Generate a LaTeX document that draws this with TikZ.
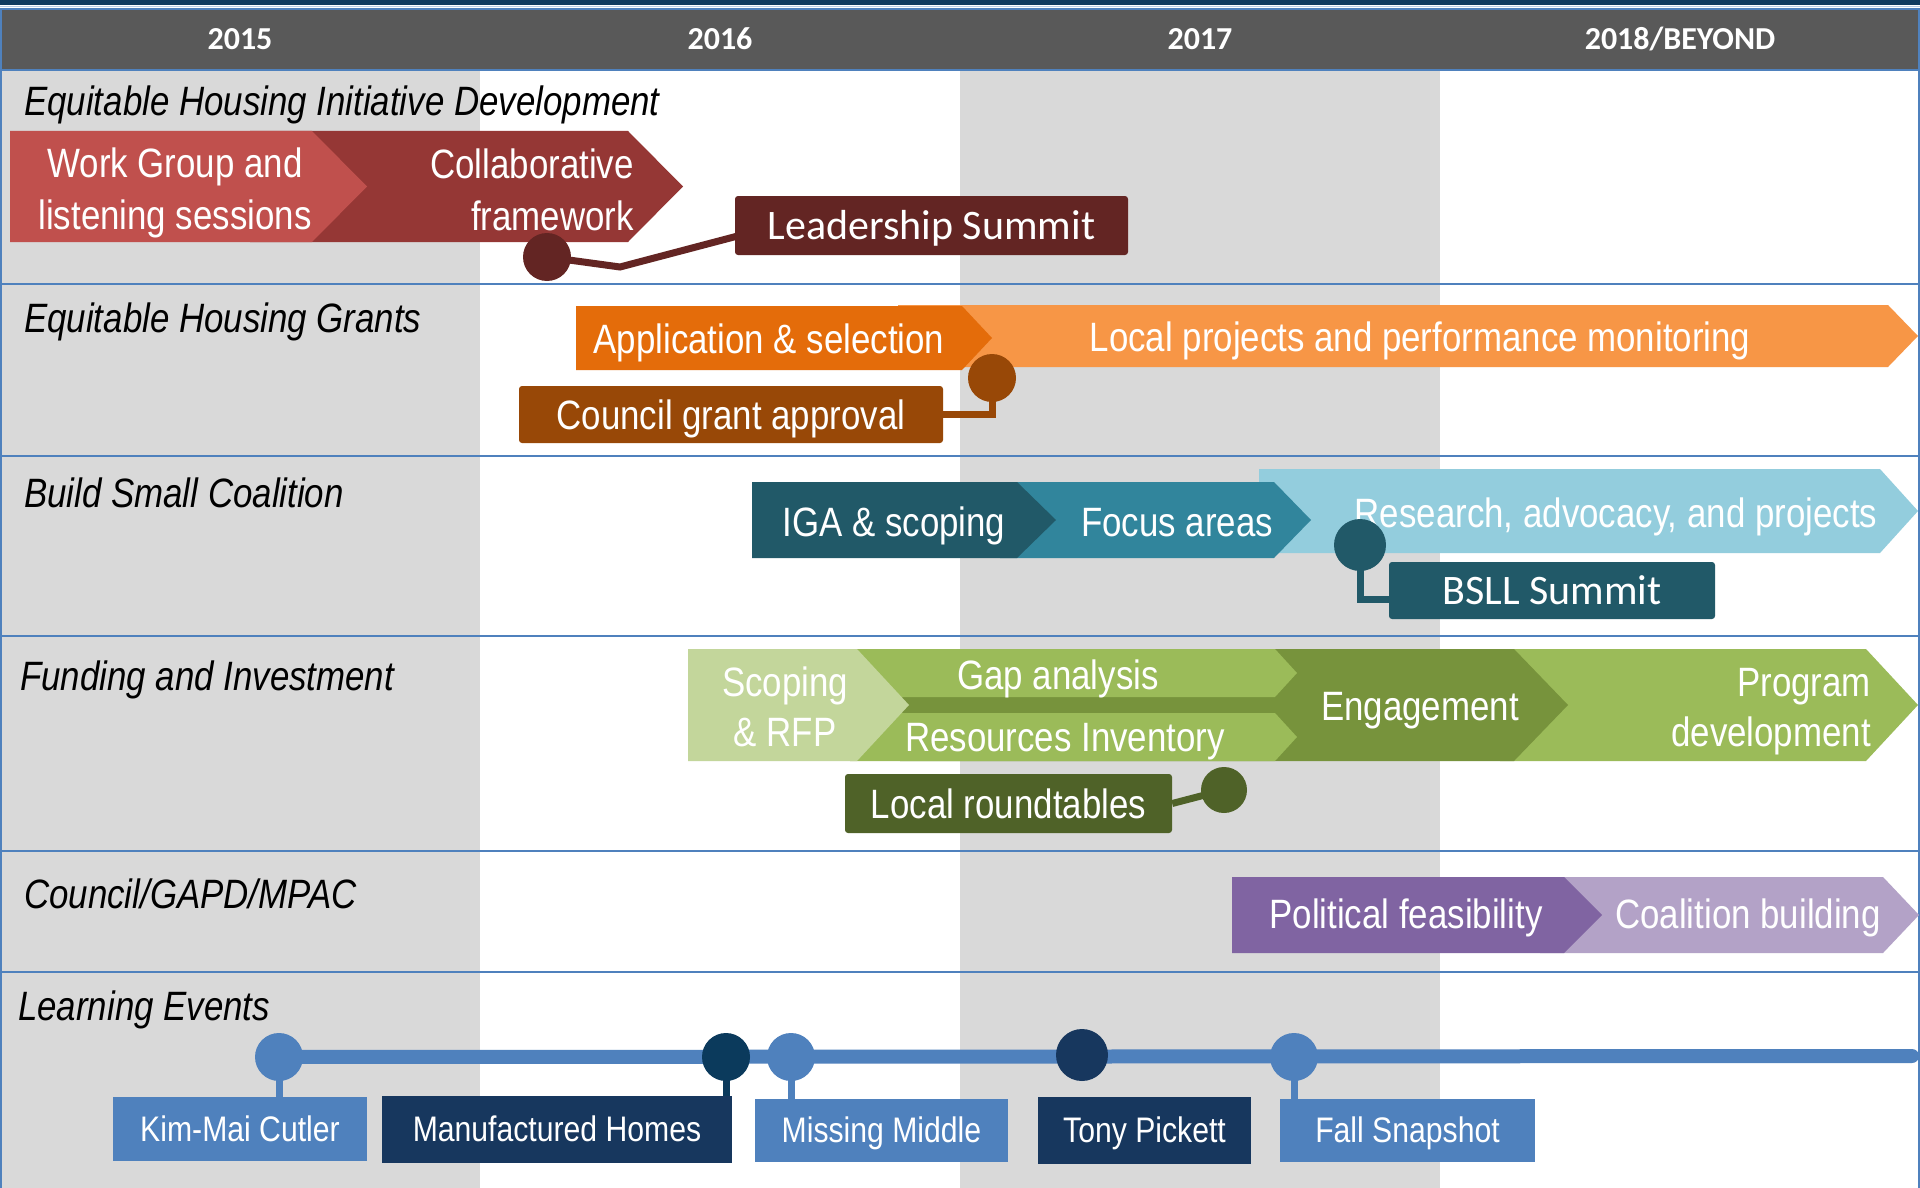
\documentclass[tikz,border=0pt]{standalone}
\usepackage{fontspec}
\setmainfont{Liberation Sans}[FakeStretch=0.85]
\newfontfamily\calfont{Carlito}
\usetikzlibrary{calc}

\definecolor{hdrgray}{HTML}{595959}
\definecolor{colshade}{HTML}{D9D9D9}
\definecolor{rule}{HTML}{4F81BD}
\definecolor{topnavy}{HTML}{0F3A5E}
\definecolor{redA}{HTML}{C0504D}
\definecolor{redB}{HTML}{953735}
\definecolor{redC}{HTML}{632523}
\definecolor{orA}{HTML}{E46C0A}
\definecolor{orB}{HTML}{F79646}
\definecolor{orC}{HTML}{984807}
\definecolor{tlA}{HTML}{215968}
\definecolor{tlB}{HTML}{31859C}
\definecolor{tlC}{HTML}{93CDDD}
\definecolor{grA}{HTML}{C3D69B}
\definecolor{grB}{HTML}{9BBB59}
\definecolor{grC}{HTML}{77933C}
\definecolor{grD}{HTML}{4F6228}
\definecolor{puA}{HTML}{8064A2}
\definecolor{puB}{HTML}{B3A2C7}
\definecolor{evblue}{HTML}{4F81BD}
\definecolor{evnavy}{HTML}{17375E}
\definecolor{evdark}{HTML}{0B3A5C}

% filled chevron: colour, left x, body right x, top y, bottom y, tip length
\newcommand\chevshape[6]{%
  \fill[#1] (#2,#4) -- (#3,#4) -- ({#3+#6},{(#4+#5)/2}) -- (#3,#5) -- (#2,#5) -- cycle;}

\begin{document}
\begin{tikzpicture}[x=1pt,y=-1pt,
  rowlabel/.style={anchor=base west, inner sep=0, font=\fontsize{41}{46}\selectfont\itshape},
  ctext/.style={text=white, inner sep=0, align=center, font=\fontsize{41}{50}\selectfont},
  widetext/.style={text=white, inner sep=0, font=\fontsize{41}{52}\selectfont},
  oneline/.style={text height=35pt, text depth=6pt},
  yeartext/.style={text=white, inner sep=0, font=\calfont\bfseries\fontsize{32}{36}\selectfont},
  box/.style={rectangle, rounded corners=3, inner sep=0, text=white},
  calbox/.style={box, font=\calfont\fontsize{42}{46}\selectfont, text height=30pt, text depth=3pt},
  narbox/.style={box, font=\fontsize{41}{46}\selectfont, text height=35pt, text depth=6pt},
  evbox/.style={rectangle, inner sep=0, text=white, font=\fontsize{35.5}{40}\selectfont, text height=30pt, text depth=6pt},
  dot/.style={circle, inner sep=0, draw=none},
  link/.style={line width=7},
  rowrule/.style={rule, line width=2.5}
]
\useasboundingbox (0,0) rectangle (1920,1188);

% ---- background columns and header ----
\fill[white] (0,0) rectangle (1920,1188);
\fill[colshade] (0,70) rectangle (480,1188);
\fill[colshade] (960,70) rectangle (1440,1188);
\fill[topnavy] (0,0) rectangle (1920,5);
\draw[rule!40, line width=1.5] (0,6.5) -- (1920,6.5);
\fill[hdrgray] (0,9) rectangle (1920,70);
\draw[rule, line width=2] (0,9) -- (1920,9);

\node[yeartext] (y15) at (240,39) {2015};
\node[yeartext] (y16) at (720,39) {2016};
\node[yeartext] (y17) at (1200,39) {2017};
\node[yeartext] (y18) at (1680,39) {2018/BEYOND};

% ---- row rules and frame ----
\foreach \yy in {70,284,456,636,851,972}
  \draw[rowrule] (0,\yy) -- (1920,\yy);
\draw[rule, line width=2] (1,9) -- (1,1188);
\draw[rule, line width=2] (1919,9) -- (1919,1188);

% ---- row labels ----
\node[rowlabel] (r1) at (24,116) {Equitable Housing Initiative Development};
\node[rowlabel] (r2) at (24,332) {Equitable Housing Grants};
\node[rowlabel] (r3) at (24,507) {Build Small Coalition};
\node[rowlabel] (r4) at (20,690) {Funding and Investment};
\node[rowlabel] (r5) at (24,908) {Council/GAPD/MPAC};
\node[rowlabel] (r6) at (18,1020) {Learning Events};

% ---- row 1: initiative development ----
\chevshape{redB}{250}{628}{131}{242}{55}
\chevshape{redA}{10}{312}{131}{242}{55}
\node[widetext, align=center] (wg) at (175,193) {Work Group and\\listening sessions};
\node[widetext, align=right, anchor=east] (cf) at (634,190) {Collaborative\\framework};

\node[dot, minimum size=48] (c1) at (547,257) {};
\node[calbox, fill=redC, minimum width=393, minimum height=59] (lead) at (931.5,225.5) {Leadership Summit};
\draw[link, redC] (c1.center) -- (620,267) -- ($(lead.west)+(1,11)$);
\fill[redC] (c1) circle[radius=24];

% ---- row 2: housing grants ----
\chevshape{orB}{898}{1888}{305}{367}{30}
\chevshape{orA}{576}{962}{306}{370}{30}
\node[ctext, oneline] (app) at (769,339) {Application \& selection};
\node[ctext, oneline] (loc) at (1420,337) {Local projects and performance monitoring};

\node[dot, minimum size=48] (c2) at (992,378) {};
\node[narbox, fill=orC, minimum width=424, minimum height=57] (cga) at (731,414.5) {Council grant approval};
\draw[link, orC] (c2.center) |- (cga.east);
\fill[orC] (c2) circle[radius=24];

% ---- row 3: small coalition ----
\chevshape{tlC}{1259}{1880}{469}{553}{38}
\chevshape{tlB}{1000}{1274}{482}{558}{37}
\chevshape{tlA}{752}{1017}{482}{558}{39}
\node[ctext, oneline] (iga) at (894,522) {IGA \& scoping};
\node[ctext, oneline] (foc) at (1177,522) {Focus areas};
\node[ctext, oneline] (res) at (1616,513) {Research, advocacy, and projects};

\node[calbox, fill=tlA, minimum width=326, minimum height=57] (bsll) at (1552,590.5) {BSLL Summit};
\node[dot, minimum size=52] (c3) at (1360,545) {};
\draw[link, tlA] (c3.center) |- ($(bsll.west)+(1,9)$);
\fill[tlA] (c3) circle[radius=26];

% ---- row 4: funding and investment ----
\chevshape{grB}{1500}{1866}{649}{761}{52}
\chevshape{grC}{900}{1514}{649}{761}{54}
\chevshape{grB}{850}{1275}{713}{761}{22}
\chevshape{grB}{850}{1275}{649}{697}{22}
\chevshape{grA}{688}{857}{649}{761}{52}
\node[ctext] (scp) at (785,707) {Scoping\\\& RFP};
\node[ctext, oneline] (gap) at (1058,675) {Gap analysis};
\node[ctext, oneline] (rinv) at (1065,737) {Resources Inventory};
\node[ctext, oneline] (eng) at (1420,706) {Engagement};
\node[ctext, align=right, anchor=east] (prog) at (1871,712) {Program\\development};

\node[dot, minimum size=46] (c4) at (1224,790) {};
\node[narbox, fill=grD, minimum width=327, minimum height=59] (lrt) at (1008.5,803.5) {Local roundtables};
\draw[link, grD] (lrt.east) -- (c4.center);
\fill[grD] (c4) circle[radius=23];

% ---- row 5: council ----
\chevshape{puB}{1540}{1883}{877}{953}{36}
\chevshape{puA}{1232}{1564}{877}{953}{38}
\node[ctext, oneline] (pol) at (1406,914) {Political feasibility};
\node[ctext, oneline] (coa) at (1748,914) {Coalition building};

% ---- row 6: learning events ----
\coordinate (barend) at (1912,1056);
\node[evbox, fill=evblue, minimum width=254, minimum height=64] (b1) at (240,1129) {Kim-Mai Cutler};
\node[evbox, fill=evnavy, minimum width=350, minimum height=67] (b2) at (557,1129.5) {Manufactured Homes};
\node[evbox, fill=evblue, minimum width=253, minimum height=63] (b3) at (881.5,1130.5) {Missing Middle};
\node[evbox, fill=evnavy, minimum width=213, minimum height=67] (b4) at (1144.5,1130.5) {Tony Pickett};
\node[evbox, fill=evblue, minimum width=255, minimum height=63] (b5) at (1407.5,1130.5) {Fall Snapshot};

\node[dot, minimum size=48] (k1) at (279,1057) {};
\node[dot, minimum size=48] (k2) at (726,1057) {};
\node[dot, minimum size=48] (k3) at (791,1057) {};
\node[dot, minimum size=52] (k4) at (1082,1055) {};
\node[dot, minimum size=48] (k5) at (1294,1057) {};

\draw[evblue, line width=14, line cap=round] (k1.center) -- (barend);
\draw[evblue, line width=7] (k1.center) -- (k1 |- b1.north);
\draw[evdark, line width=7] (k2.center) -- (k2 |- b2.north);
\draw[evblue, line width=7] (k3.center) -- (k3 |- b3.north);
\draw[evnavy, line width=7] ($(k4.center)+(6,0)$) -- ($(k4.center)+(6,0)$ |- b4.north);
\draw[evblue, line width=7] (k5.center) -- (k5 |- b5.north);

\fill[evblue] (k1) circle[radius=24];
\fill[evdark] (k2) circle[radius=24];
\fill[evblue] (k3) circle[radius=24];
\fill[evnavy] (k4) circle[radius=26];
\fill[evblue] (k5) circle[radius=24];
\end{tikzpicture}
\end{document}
